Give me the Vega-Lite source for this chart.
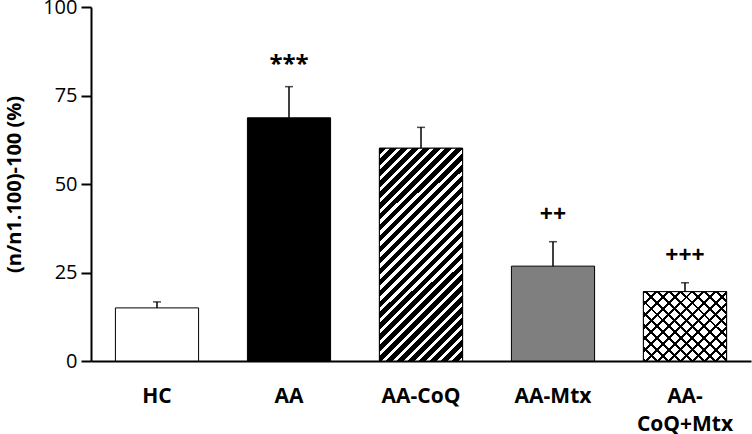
{
  "$schema": "https://vega.github.io/schema/vega-lite/v6.json",
  "width": 660,
  "height": 354,
  "autosize": "none",
  "padding": {"left": 91, "top": 7, "right": 1, "bottom": 73},
  "data": {"values": [
    {"group": "HC", "value": 15.0, "upper": 16.7, "sig": ""},
    {"group": "AA", "value": 68.7, "upper": 77.5, "sig": "***"},
    {"group": "AA-CoQ", "value": 60.1, "upper": 66.0, "sig": ""},
    {"group": "AA-Mtx", "value": 26.8, "upper": 33.7, "sig": "++"},
    {"group": "AA-CoQ+Mtx", "value": 19.6, "upper": 22.1, "sig": "+++"}
  ]},
  "encoding": {
    "x": {"field": "group", "type": "nominal", "sort": null,
      "scale": {"paddingInner": 0.37, "paddingOuter": 0.185},
      "axis": {"title": null, "labelAngle": 0, "ticks": false, "domainWidth": 2, "labelFontSize": 21, "labelFontWeight": "bold", "labelPadding": 24, "labelLineHeight": 28, "labelBaseline": "top",
        "labelExpr": "datum.value === 'AA-CoQ+Mtx' ? ['AA-', 'CoQ+Mtx'] : datum.label"}}
  },
  "layer": [
    {
      "mark": {"type": "bar", "stroke": "black", "strokeWidth": 1},
      "encoding": {
        "y": {"field": "value", "type": "quantitative",
          "scale": {"domain": [0, 100], "nice": false},
          "axis": {"values": [0, 25, 50, 75, 100], "title": "(n/n1.100)-100 (%)", "domainWidth": 2, "tickWidth": 2, "tickSize": 10, "labelFontSize": 20, "labelPadding": 4, "titleFontSize": 20, "titleFontWeight": "bold", "titlePadding": 18}},
        "fill": {"field": "group", "type": "nominal", "legend": null,
          "scale": {"domain": ["HC", "AA", "AA-CoQ", "AA-Mtx", "AA-CoQ+Mtx"], "range": ["white", "black", "white", "#7f7f7f", "white"]}}
      }
    },
    {
      "transform": [{"filter": "datum.group === 'AA-CoQ'"}],
      "mark": {"type": "bar", "stroke": "black", "strokeWidth": 1,
        "fill": {"gradient": "linear", "x1": 0, "y1": 0, "x2": 0.4706, "y2": 1.2066, "stops": [
          {"offset": 0, "color": "black"}, {"offset": 0.02222, "color": "black"}, {"offset": 0.02222, "color": "white"}, {"offset": 0.03704, "color": "white"},
          {"offset": 0.03704, "color": "black"}, {"offset": 0.05926, "color": "black"}, {"offset": 0.05926, "color": "white"}, {"offset": 0.07407, "color": "white"},
          {"offset": 0.07407, "color": "black"}, {"offset": 0.0963, "color": "black"}, {"offset": 0.0963, "color": "white"}, {"offset": 0.11111, "color": "white"},
          {"offset": 0.11111, "color": "black"}, {"offset": 0.13333, "color": "black"}, {"offset": 0.13333, "color": "white"}, {"offset": 0.14815, "color": "white"},
          {"offset": 0.14815, "color": "black"}, {"offset": 0.17037, "color": "black"}, {"offset": 0.17037, "color": "white"}, {"offset": 0.18519, "color": "white"},
          {"offset": 0.18519, "color": "black"}, {"offset": 0.20741, "color": "black"}, {"offset": 0.20741, "color": "white"}, {"offset": 0.22222, "color": "white"},
          {"offset": 0.22222, "color": "black"}, {"offset": 0.24444, "color": "black"}, {"offset": 0.24444, "color": "white"}, {"offset": 0.25926, "color": "white"},
          {"offset": 0.25926, "color": "black"}, {"offset": 0.28148, "color": "black"}, {"offset": 0.28148, "color": "white"}, {"offset": 0.2963, "color": "white"},
          {"offset": 0.2963, "color": "black"}, {"offset": 0.31852, "color": "black"}, {"offset": 0.31852, "color": "white"}, {"offset": 0.33333, "color": "white"},
          {"offset": 0.33333, "color": "black"}, {"offset": 0.35556, "color": "black"}, {"offset": 0.35556, "color": "white"}, {"offset": 0.37037, "color": "white"},
          {"offset": 0.37037, "color": "black"}, {"offset": 0.39259, "color": "black"}, {"offset": 0.39259, "color": "white"}, {"offset": 0.40741, "color": "white"},
          {"offset": 0.40741, "color": "black"}, {"offset": 0.42963, "color": "black"}, {"offset": 0.42963, "color": "white"}, {"offset": 0.44444, "color": "white"},
          {"offset": 0.44444, "color": "black"}, {"offset": 0.46667, "color": "black"}, {"offset": 0.46667, "color": "white"}, {"offset": 0.48148, "color": "white"},
          {"offset": 0.48148, "color": "black"}, {"offset": 0.5037, "color": "black"}, {"offset": 0.5037, "color": "white"}, {"offset": 0.51852, "color": "white"},
          {"offset": 0.51852, "color": "black"}, {"offset": 0.54074, "color": "black"}, {"offset": 0.54074, "color": "white"}, {"offset": 0.55556, "color": "white"},
          {"offset": 0.55556, "color": "black"}, {"offset": 0.57778, "color": "black"}, {"offset": 0.57778, "color": "white"}, {"offset": 0.59259, "color": "white"},
          {"offset": 0.59259, "color": "black"}, {"offset": 0.61481, "color": "black"}, {"offset": 0.61481, "color": "white"}, {"offset": 0.62963, "color": "white"},
          {"offset": 0.62963, "color": "black"}, {"offset": 0.65185, "color": "black"}, {"offset": 0.65185, "color": "white"}, {"offset": 0.66667, "color": "white"},
          {"offset": 0.66667, "color": "black"}, {"offset": 0.68889, "color": "black"}, {"offset": 0.68889, "color": "white"}, {"offset": 0.7037, "color": "white"},
          {"offset": 0.7037, "color": "black"}, {"offset": 0.72593, "color": "black"}, {"offset": 0.72593, "color": "white"}, {"offset": 0.74074, "color": "white"},
          {"offset": 0.74074, "color": "black"}, {"offset": 0.76296, "color": "black"}, {"offset": 0.76296, "color": "white"}, {"offset": 0.77778, "color": "white"},
          {"offset": 0.77778, "color": "black"}, {"offset": 0.8, "color": "black"}, {"offset": 0.8, "color": "white"}, {"offset": 0.81481, "color": "white"},
          {"offset": 0.81481, "color": "black"}, {"offset": 0.83704, "color": "black"}, {"offset": 0.83704, "color": "white"}, {"offset": 0.85185, "color": "white"},
          {"offset": 0.85185, "color": "black"}, {"offset": 0.87407, "color": "black"}, {"offset": 0.87407, "color": "white"}, {"offset": 0.88889, "color": "white"},
          {"offset": 0.88889, "color": "black"}, {"offset": 0.91111, "color": "black"}, {"offset": 0.91111, "color": "white"}, {"offset": 0.92593, "color": "white"},
          {"offset": 0.92593, "color": "black"}, {"offset": 0.94815, "color": "black"}, {"offset": 0.94815, "color": "white"}, {"offset": 0.96296, "color": "white"},
          {"offset": 0.96296, "color": "black"}, {"offset": 0.98519, "color": "black"}, {"offset": 0.98519, "color": "white"}, {"offset": 1, "color": "white"}
        ]}},
      "encoding": {"y": {"field": "value", "type": "quantitative"}}
    },
    {
      "transform": [{"filter": "datum.group === 'AA-CoQ+Mtx'"}],
      "mark": {"type": "bar", "strokeWidth": 0,
        "fill": {"gradient": "linear", "x1": 0, "y1": 0, "x2": 1.0807, "y2": 0.9036, "stops": [
          {"offset": 0, "color": "black"}, {"offset": 0.01923, "color": "black"}, {"offset": 0.01923, "color": "white"}, {"offset": 0.07692, "color": "white"},
          {"offset": 0.07692, "color": "black"}, {"offset": 0.09615, "color": "black"}, {"offset": 0.09615, "color": "white"}, {"offset": 0.15385, "color": "white"},
          {"offset": 0.15385, "color": "black"}, {"offset": 0.17308, "color": "black"}, {"offset": 0.17308, "color": "white"}, {"offset": 0.23077, "color": "white"},
          {"offset": 0.23077, "color": "black"}, {"offset": 0.25, "color": "black"}, {"offset": 0.25, "color": "white"}, {"offset": 0.30769, "color": "white"},
          {"offset": 0.30769, "color": "black"}, {"offset": 0.32692, "color": "black"}, {"offset": 0.32692, "color": "white"}, {"offset": 0.38462, "color": "white"},
          {"offset": 0.38462, "color": "black"}, {"offset": 0.40385, "color": "black"}, {"offset": 0.40385, "color": "white"}, {"offset": 0.46154, "color": "white"},
          {"offset": 0.46154, "color": "black"}, {"offset": 0.48077, "color": "black"}, {"offset": 0.48077, "color": "white"}, {"offset": 0.53846, "color": "white"},
          {"offset": 0.53846, "color": "black"}, {"offset": 0.55769, "color": "black"}, {"offset": 0.55769, "color": "white"}, {"offset": 0.61538, "color": "white"},
          {"offset": 0.61538, "color": "black"}, {"offset": 0.63462, "color": "black"}, {"offset": 0.63462, "color": "white"}, {"offset": 0.69231, "color": "white"},
          {"offset": 0.69231, "color": "black"}, {"offset": 0.71154, "color": "black"}, {"offset": 0.71154, "color": "white"}, {"offset": 0.76923, "color": "white"},
          {"offset": 0.76923, "color": "black"}, {"offset": 0.78846, "color": "black"}, {"offset": 0.78846, "color": "white"}, {"offset": 0.84615, "color": "white"},
          {"offset": 0.84615, "color": "black"}, {"offset": 0.86538, "color": "black"}, {"offset": 0.86538, "color": "white"}, {"offset": 0.92308, "color": "white"},
          {"offset": 0.92308, "color": "black"}, {"offset": 0.94231, "color": "black"}, {"offset": 0.94231, "color": "white"}, {"offset": 1, "color": "white"}
        ]}},
      "encoding": {"y": {"field": "value", "type": "quantitative"}}
    },
    {
      "transform": [{"filter": "datum.group === 'AA-CoQ+Mtx'"}],
      "mark": {"type": "bar", "stroke": "black", "strokeWidth": 1,
        "fill": {"gradient": "linear", "x1": 0, "y1": 1, "x2": 1.0807, "y2": 0.0964, "stops": [
          {"offset": 0, "color": "black"}, {"offset": 0.01923, "color": "black"}, {"offset": 0.01923, "color": "transparent"}, {"offset": 0.07692, "color": "transparent"},
          {"offset": 0.07692, "color": "black"}, {"offset": 0.09615, "color": "black"}, {"offset": 0.09615, "color": "transparent"}, {"offset": 0.15385, "color": "transparent"},
          {"offset": 0.15385, "color": "black"}, {"offset": 0.17308, "color": "black"}, {"offset": 0.17308, "color": "transparent"}, {"offset": 0.23077, "color": "transparent"},
          {"offset": 0.23077, "color": "black"}, {"offset": 0.25, "color": "black"}, {"offset": 0.25, "color": "transparent"}, {"offset": 0.30769, "color": "transparent"},
          {"offset": 0.30769, "color": "black"}, {"offset": 0.32692, "color": "black"}, {"offset": 0.32692, "color": "transparent"}, {"offset": 0.38462, "color": "transparent"},
          {"offset": 0.38462, "color": "black"}, {"offset": 0.40385, "color": "black"}, {"offset": 0.40385, "color": "transparent"}, {"offset": 0.46154, "color": "transparent"},
          {"offset": 0.46154, "color": "black"}, {"offset": 0.48077, "color": "black"}, {"offset": 0.48077, "color": "transparent"}, {"offset": 0.53846, "color": "transparent"},
          {"offset": 0.53846, "color": "black"}, {"offset": 0.55769, "color": "black"}, {"offset": 0.55769, "color": "transparent"}, {"offset": 0.61538, "color": "transparent"},
          {"offset": 0.61538, "color": "black"}, {"offset": 0.63462, "color": "black"}, {"offset": 0.63462, "color": "transparent"}, {"offset": 0.69231, "color": "transparent"},
          {"offset": 0.69231, "color": "black"}, {"offset": 0.71154, "color": "black"}, {"offset": 0.71154, "color": "transparent"}, {"offset": 0.76923, "color": "transparent"},
          {"offset": 0.76923, "color": "black"}, {"offset": 0.78846, "color": "black"}, {"offset": 0.78846, "color": "transparent"}, {"offset": 0.84615, "color": "transparent"},
          {"offset": 0.84615, "color": "black"}, {"offset": 0.86538, "color": "black"}, {"offset": 0.86538, "color": "transparent"}, {"offset": 0.92308, "color": "transparent"},
          {"offset": 0.92308, "color": "black"}, {"offset": 0.94231, "color": "black"}, {"offset": 0.94231, "color": "transparent"}, {"offset": 1, "color": "transparent"}
        ]}},
      "encoding": {"y": {"field": "value", "type": "quantitative"}}
    },
    {
      "mark": {"type": "rule", "color": "black", "strokeWidth": 1.5},
      "encoding": {"y": {"field": "value", "type": "quantitative"}, "y2": {"field": "upper"}}
    },
    {
      "mark": {"type": "tick", "color": "black", "thickness": 1.5, "size": 8},
      "encoding": {"y": {"field": "upper", "type": "quantitative"}}
    },
    {
      "transform": [{"filter": "datum.sig === '***'"}],
      "mark": {"type": "text", "font": "Open Sans", "fontSize": 24, "fontWeight": "bold", "baseline": "alphabetic", "dy": -15, "color": "black"},
      "encoding": {"y": {"field": "upper", "type": "quantitative"}, "text": {"field": "sig"}}
    },
    {
      "transform": [{"filter": "datum.sig === '++' || datum.sig === '+++'"}],
      "mark": {"type": "text", "font": "Open Sans", "fontSize": 23, "fontWeight": "bold", "baseline": "alphabetic", "dy": -20, "color": "black"},
      "encoding": {"y": {"field": "upper", "type": "quantitative"}, "text": {"field": "sig"}}
    }
  ],
  "config": {
    "view": {"stroke": null},
    "axis": {"labelFont": "Open Sans", "titleFont": "Open Sans", "labelColor": "black", "titleColor": "black", "domainColor": "black", "tickColor": "black", "grid": false}
  }
}
